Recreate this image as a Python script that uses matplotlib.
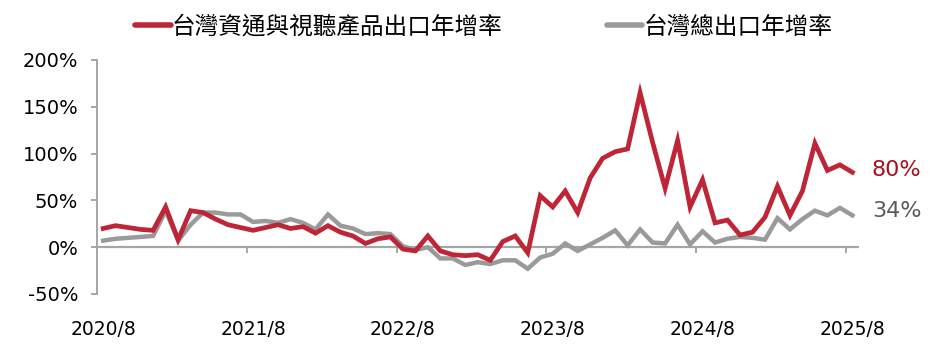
import numpy as np
import matplotlib
matplotlib.use("Agg")
import matplotlib.pyplot as plt

plt.rcParams['font.family'] = ['DejaVu Sans', 'Noto Sans CJK TC']

# 2020/8 ~ 2025/8 monthly year-over-year growth (%)
ict_growth = [20, 23, 21, 19, 18, 43, 8, 39, 37, 30, 24, 21,
              18, 21, 24, 20, 22, 15, 23, 16, 12, 4, 9, 11,
              -2, -4, 12, -4, -8, -9, -8, -14, 6, 12, -6, 55,
              43, 60, 37, 74, 95, 102, 105, 165, 112, 63, 114, 43,
              72, 26, 29, 13, 16, 32, 65, 34, 60, 111, 82, 88,
              80]
total_growth = [7, 9, 10, 11, 12, 39, 7, 24, 37, 37, 35, 35,
                27, 28, 26, 30, 26, 19, 35, 23, 20, 14, 15, 14,
                1, -3, 0, -12, -12, -19, -16, -18, -14, -14, -23, -11,
                -7, 4, -4, 3, 10, 18, 2, 19, 5, 4, 24, 3,
                17, 5, 9, 11, 10, 8, 31, 19, 30, 39, 34, 42,
                34]
tick_labels = ['2020/8', '2021/8', '2022/8', '2023/8', '2024/8', '2025/8']
series_names = ['台灣資通與視聽產品出口年增率', '台灣總出口年增率']

RED = '#be2537'
GRAY = '#9a9a9a'
AXIS = '#a6a6a6'

x = np.arange(len(ict_growth))
n = len(x)

fig = plt.figure(figsize=(9.45, 3.51), dpi=100)
ax = fig.add_axes([0.1026, 0.1624, 0.806, 0.6667])

l1, = ax.plot(x, ict_growth, color=RED, lw=3.4, solid_joinstyle='miter', zorder=3)
l2, = ax.plot(x, total_growth, color=GRAY, lw=3.2, solid_joinstyle='miter', zorder=2)

ax.set_xlim(-0.5, n - 0.5)
ax.set_ylim(-50, 200)

# zero line with tick marks between categories
ax.axhline(0, color=AXIS, lw=1.6, zorder=1)
for k in range(0, n, 12):
    ax.plot([k - 0.5, k - 0.5], [0, -6.5], color=AXIS, lw=1.4, zorder=1,
            solid_capstyle='butt')

for s in ['top', 'right', 'bottom']:
    ax.spines[s].set_visible(False)
ax.spines['left'].set_color(AXIS)
ax.spines['left'].set_linewidth(1.4)

ax.set_yticks(np.arange(-50, 201, 50))
ax.set_yticklabels([f'{v}%' for v in range(-50, 201, 50)], fontsize=14)
ax.tick_params(axis='y', length=4.5, width=1.4, color=AXIS, pad=9)

ax.set_xticks(np.arange(0, n, 12))
ax.set_xticklabels(tick_labels, fontsize=13.5)
ax.tick_params(axis='x', length=0, pad=19)

ax.annotate(f'{ict_growth[-1]}%', (x[-1], ict_growth[-1]), xytext=(14, 2),
            textcoords='offset points', color='#a50e24', fontsize=16,
            va='center', ha='left')
ax.annotate(f'{total_growth[-1]}%', (x[-1], total_growth[-1]), xytext=(14, 3.5),
            textcoords='offset points', color='#595959', fontsize=16,
            va='center', ha='left')

leg = fig.legend([l1, l2], series_names, loc='center', bbox_to_anchor=(0.512, 0.923),
                 ncol=2, frameon=False, handlelength=1.5, handletextpad=0.05,
                 columnspacing=4.4, prop={'family': 'Noto Sans CJK TC', 'size': 17})
for h in leg.legend_handles:
    h.set_linewidth(4)
    h.set_solid_capstyle('round')

fig.savefig('out.png', dpi=100)
